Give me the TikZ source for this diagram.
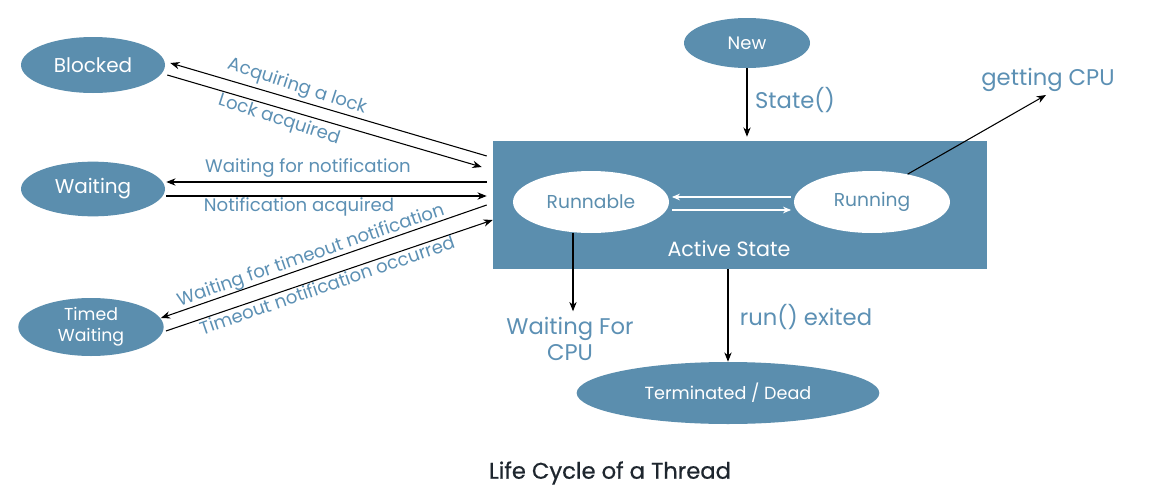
\documentclass[tikz,border=0pt]{standalone}
\usepackage{fontspec}
\setmainfont{Poppins}
\newfontfamily\tfont[FakeBold=0.6]{Poppins}
\usetikzlibrary{shapes.geometric,arrows.meta,calc}
\definecolor{tb}{RGB}{91,142,174}
\definecolor{lb}{RGB}{92,144,180}
\definecolor{ttl}{RGB}{30,38,46}
\begin{document}
\begin{tikzpicture}[x=0.75pt,y=-0.75pt,
  st/.style={ellipse,fill=tb,text=white,inner sep=0pt,align=center},
  wst/.style={ellipse,fill=white,text=tb,inner sep=0pt},
  lab/.style={text=lb,inner sep=0pt,font=\fontsize{13.6}{16}\selectfont},
  big/.style={text=lb,inner sep=0pt,align=center,font=\fontsize{17}{20}\selectfont},
  arr/.style={-{Stealth[length=7pt,width=5.5pt]},line width=0.8pt,draw=black},
  warr/.style={-{Stealth[length=6pt,width=5pt]},line width=0.8pt,draw=white}]
\useasboundingbox (0,0) rectangle (1165,496);
\fill[white] (0,0) rectangle (1165,496);

% states
\node[st,minimum width=108pt,minimum height=42pt,font=\fontsize{15}{17}\selectfont] (blocked) at (93,65) {Blocked};
\node[st,minimum width=108pt,minimum height=41pt,font=\fontsize{15}{17}\selectfont] (waiting) at (93,189) {Waiting};
\node[st,minimum width=109pt,minimum height=43.5pt,font=\fontsize{13}{15.5}\selectfont] (timed) at (91,327) {Timed\\Waiting};
\node[st,minimum width=94.5pt,minimum height=37.5pt,font=\fontsize{13.5}{15}\selectfont] (new) at (747,43) {New};
\node[rectangle,fill=tb,minimum width=370.5pt,minimum height=96pt,inner sep=0pt] (box) at (740,205) {};
\node[wst,minimum width=117pt,minimum height=46.5pt,font=\fontsize{14}{16}\selectfont] (runnable) at (591,202) {Runnable};
\node[wst,minimum width=117pt,minimum height=46.5pt,font=\fontsize{14}{16}\selectfont] (running) at (872,202) {Running};
\node[text=white,inner sep=0pt,font=\fontsize{15.5}{17}\selectfont] (active) at (729,249) {Active State};
\node[st,minimum width=227pt,minimum height=46.5pt,font=\fontsize{13.2}{15}\selectfont] (term) at (728,393) {Terminated / Dead};

% big labels
\node[big] (statel) at (795,100) {State()};
\node[big] (gcpu) at (1048,80) {getting CPU};
\node[big] (wfc) at (570,339) {Waiting For\\CPU};
\node[big] (runex) at (806,317) {run() exited};
\node[inner sep=0pt,text=ttl,font=\tfont\fontsize{17}{19}\selectfont] (title) at (610,473) {Life Cycle of a Thread};
\coordinate (cpu) at (1046,95);

% vertical connectors
\draw[arr,shorten >=3pt] (new.south) -- (new.south |- box.north);
\draw[arr] (running.38) -- (cpu);
\draw[arr] ($(runnable.south)+(-18,0)$) -- ($(runnable.south)+(-18,78)$);
\draw[arr] (term.north |- box.south) -- (term.north);

% inner white arrows
\draw[warr,shorten <=2pt,shorten >=2pt] ($(running.west)+(0,-5)$) -- ($(runnable.east)+(0,-5)$);
\draw[warr,shorten <=2pt,shorten >=2pt] ($(runnable.east)+(0,8)$) -- ($(running.west)+(0,8)$);

% left connectors
\draw[arr] ($(box.west)+(-6,-49)$) -- ($(blocked.east)+(5,-2)$);
\draw[arr] ($(blocked.east)+(2,10)$) -- ($(box.west)+(-11,-38)$);
\draw[arr] ($(box.west)+(-6,-23)$) -- ($(waiting.east)+(1,-7)$);
\draw[arr] ($(waiting.east)+(1,7)$) -- ($(box.west)+(-6,-9)$);
\draw[arr] ($(box.west)+(-6,0)$) -- ($(timed.east)+(-3,-9)$);
\draw[arr] ($(timed.east)+(2,4)$) -- ($(box.west)+(0,15)$);

% left labels
\node[lab,rotate=-18] (l1) at (297,87) {Acquiring a lock};
\node[lab,rotate=-18] (l2) at (279,120) {Lock acquired};
\node[lab] (l3) at (308,168) {Waiting for notification};
\node[lab] (l4) at (299,207) {Notification acquired};
\node[lab,rotate=19] (l5) at (311,256) {Waiting for timeout notification};
\node[lab,rotate=19] (l6) at (327,285) {Timeout notification occurred};
\end{tikzpicture}
\end{document}
